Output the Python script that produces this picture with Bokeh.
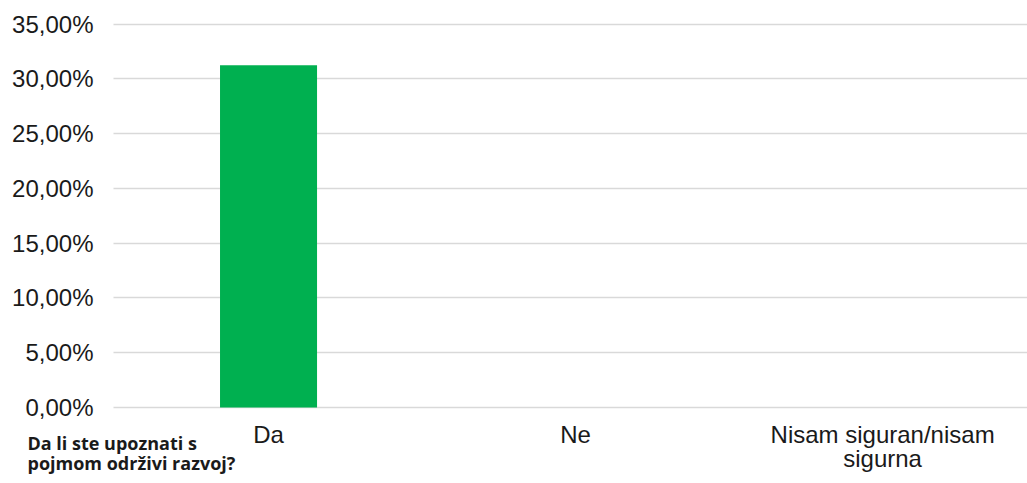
from bokeh.plotting import figure
from bokeh.models import ColumnDataSource, FixedTicker, Label
from bokeh.embed import file_html
from bokeh.resources import INLINE

# Survey answers and their shares (in percent)
categories = ["Da", "Ne", "Nisam siguran/nisam\nsigurna"]
shares = [31.25, 0.0, 0.0]
y_ticks = [0, 5, 10, 15, 20, 25, 30, 35]
question = "Da li ste upoznati s\npojmom održivi razvoj?"

positions = list(range(1, len(categories) + 1))
source = ColumnDataSource(dict(x=positions, top=shares))

# plotting area spans the whole canvas; axes are pinned inside it
x_lo, x_hi = 0.495, 3.472
p = figure(width=1027, height=483, output_backend="svg", toolbar_location=None,
           x_range=(0.127, x_hi), y_range=(-6.94, 37.16),
           min_border=0)
p.outline_line_color = None
p.background_fill_color = "white"
p.border_fill_color = "white"

p.vbar(x="x", top="top", width=0.316, bottom=0, source=source,
       fill_color="#00B050", line_color=None)

# horizontal grid only, starting at the value axis
p.xgrid.grid_line_color = None
p.ygrid.ticker = FixedTicker(ticks=y_ticks)
p.ygrid.cross_bounds = (x_lo, x_hi)
p.ygrid.grid_line_color = "#d9d9d9"
p.ygrid.grid_line_width = 1.5

# y axis: percent labels with decimal comma
p.yaxis.fixed_location = x_lo
p.yaxis.ticker = FixedTicker(ticks=y_ticks)
p.yaxis.major_label_overrides = {t: f"{t:.2f}%".replace(".", ",") for t in y_ticks}
p.yaxis.axis_line_color = None
p.yaxis.major_tick_line_color = None
p.yaxis.minor_tick_line_color = None
p.yaxis.major_label_standoff = 14
p.yaxis.major_label_text_font = "Liberation Sans"
p.yaxis.major_label_text_font_size = "24px"
p.yaxis.major_label_text_color = "#1a1a1a"

# x axis: category names
p.xaxis.fixed_location = 0
p.xaxis.ticker = FixedTicker(ticks=positions)
p.xaxis.major_label_overrides = {pos: name for pos, name in zip(positions, categories)}
p.xaxis.axis_line_color = None
p.xaxis.major_tick_line_color = None
p.xaxis.minor_tick_line_color = None
p.xaxis.major_label_standoff = 8
p.xaxis.major_label_text_font = "Liberation Sans"
p.xaxis.major_label_text_font_size = "24px"
p.xaxis.major_label_text_line_height = 0.88
p.xaxis.major_label_text_color = "#1a1a1a"

# question caption in the lower left corner
p.add_layout(Label(x=27, y=53, x_units="screen", y_units="screen",
                   text=question, text_font="Open Sans", text_font_style="bold",
                   text_font_size="18px", text_baseline="top",
                   text_line_height=0.86, text_color="#1a1a1a"))

open("out.html", "w").write(file_html(p, INLINE))
